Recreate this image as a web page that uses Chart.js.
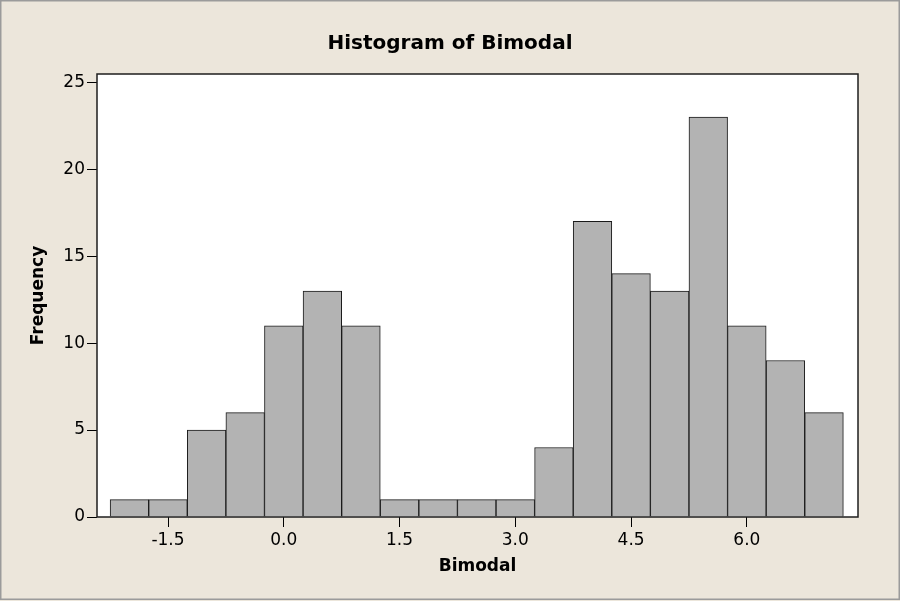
<!DOCTYPE html>
<html>
<head>
<meta charset="utf-8">
<title>Histogram of Bimodal</title>
<script src="https://cdn.jsdelivr.net/npm/chart.js@4.4.1/dist/chart.umd.min.js"></script>
<style>
  html, body { margin: 0; padding: 0; background: #ece6db; }
  #wrap { width: 900px; height: 601px; }
</style>
</head>
<body>
<div id="wrap"><canvas id="histChart" width="900" height="601"></canvas></div>
<script>
// bin midpoints (bins are 0.5 wide) and counts
const binCenters = [-2.0, -1.5, -1.0, -0.5, 0.0, 0.5, 1.0, 1.5, 2.0, 2.5, 3.0, 3.5, 4.0, 4.5, 5.0, 5.5, 6.0, 6.5, 7.0];
const frequencies = [1, 1, 5, 6, 11, 13, 11, 1, 1, 1, 1, 4, 17, 14, 13, 23, 11, 9, 6];
const xTickValues = [-1.5, 0.0, 1.5, 3.0, 4.5, 6.0];
const yTickValues = [0, 5, 10, 15, 20, 25];

const FONT = 'DejaVu Sans';

// beige page, white plot area, dark frame round the plot
const frameAndBackground = {
  id: 'frameAndBackground',
  beforeDraw(chart) {
    const { ctx, width, height, chartArea: a } = chart;
    ctx.save();
    ctx.fillStyle = '#ece6db';
    ctx.fillRect(0, 0, width, height);
    ctx.strokeStyle = '#9b9b9b';
    ctx.lineWidth = 1.5;
    ctx.strokeRect(0.75, 0.75, width - 1.5, height - 2.5);
    ctx.fillStyle = '#ffffff';
    ctx.fillRect(a.left, a.top, a.right - a.left, a.bottom - a.top);
    ctx.restore();
  },
  afterDatasetsDraw(chart) {
    const { ctx, chartArea: a } = chart;
    ctx.save();
    ctx.strokeStyle = '#1e1e1e';
    ctx.lineWidth = 1.5;
    ctx.strokeRect(a.left, a.top, a.right - a.left, a.bottom - a.top);
    ctx.restore();
  }
};

const tickGrid = {
  display: true,
  drawOnChartArea: false,
  drawTicks: true,
  tickLength: 10,
  color: '#000',
  tickColor: '#000',
  lineWidth: 1,
  offset: false
};

new Chart(document.getElementById('histChart'), {
  type: 'bar',
  data: {
    datasets: [{
      label: 'Frequency',
      data: binCenters.map((c, i) => ({ x: c, y: frequencies[i] })),
      backgroundColor: '#b3b3b3',
      borderColor: '#1a1a1a',
      borderWidth: 1,
      borderSkipped: 'start',
      barPercentage: 1,
      categoryPercentage: 1
    }]
  },
  options: {
    responsive: false,
    animation: false,
    layout: { padding: 0 },
    plugins: {
      legend: { display: false },
      tooltip: { enabled: false },
      title: {
        display: true,
        text: 'Histogram of Bimodal',
        color: '#000',
        font: { family: FONT, size: 20, weight: 'bold' },
        padding: { top: 32, bottom: 18 }
      }
    },
    scales: {
      x: {
        type: 'linear',
        min: -2.42,
        max: 7.44,
        offset: false,
        grid: tickGrid,
        border: { display: false },
        ticks: {
          color: '#000',
          font: { family: FONT, size: 17 },
          padding: 3,
          autoSkip: false,
          maxRotation: 0,
          callback: v => v.toFixed(1)
        },
        afterBuildTicks: s => { s.ticks = xTickValues.map(v => ({ value: v })); },
        afterFit: s => { s.height = 84; },
        title: {
          display: true,
          text: 'Bimodal',
          color: '#000',
          font: { family: FONT, size: 17, weight: 'bold' },
          padding: { top: 0, bottom: 24 }
        }
      },
      y: {
        min: 0,
        max: 25.48,
        grid: tickGrid,
        border: { display: false },
        ticks: {
          color: '#000',
          font: { family: FONT, size: 17 },
          padding: 2
        },
        afterBuildTicks: s => { s.ticks = yTickValues.map(v => ({ value: v })); },
        afterFit: s => { s.width = 97; },
        title: {
          display: true,
          text: 'Frequency',
          color: '#000',
          font: { family: FONT, size: 17, weight: 'bold' },
          padding: { top: 28, bottom: 0 }
        }
      },
      // empty right-hand axis that only keeps the margin, so the title stays centred on the page
      yRight: {
        position: 'right',
        grid: { display: false },
        border: { display: false },
        ticks: { display: false },
        afterFit: s => { s.width = 42; }
      }
    }
  },
  plugins: [frameAndBackground]
});
</script>
</body>
</html>
